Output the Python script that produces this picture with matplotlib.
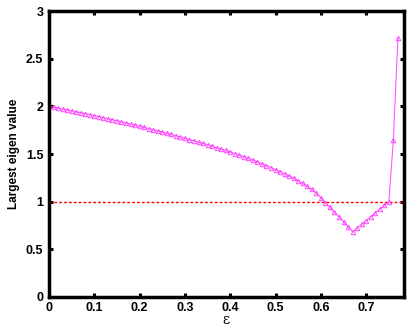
import numpy as np
import matplotlib
matplotlib.use("Agg")
import matplotlib.pyplot as plt

# coupling strength and largest eigenvalue
eps = [round(0.01 * i, 2) for i in range(78)]
lam = [2.000, 1.991, 1.982, 1.972, 1.963, 1.953, 1.943, 1.934, 1.924, 1.914,
       1.904, 1.893, 1.882, 1.871, 1.860, 1.849, 1.838, 1.826, 1.815, 1.803,
       1.791, 1.779, 1.767, 1.755, 1.743, 1.730, 1.718, 1.705, 1.692, 1.679,
       1.666, 1.652, 1.639, 1.625, 1.611, 1.597, 1.582, 1.567, 1.552, 1.537,
       1.521, 1.505, 1.488, 1.471, 1.454, 1.436, 1.417, 1.398, 1.379, 1.358,
       1.336, 1.315, 1.293, 1.270, 1.245, 1.219, 1.191, 1.161, 1.128, 1.089,
       1.042, 0.990, 0.940, 0.890, 0.840, 0.790, 0.735, 0.684, 0.723, 0.763,
       0.802, 0.842, 0.882, 0.921, 0.961, 1.000, 1.650, 2.720]
threshold = 1.0

xticks = [0, 0.1, 0.2, 0.3, 0.4, 0.5, 0.6, 0.7]
yticks = [0, 0.5, 1, 1.5, 2, 2.5, 3]

plt.rcParams['font.family'] = ['Liberation Sans', 'DejaVu Sans']

fig = plt.figure(figsize=(4.15, 3.27), dpi=100)
ax = fig.add_axes([0.118, 0.092, 0.855, 0.874])

ax.axhline(threshold, color='#ff0000', lw=1.0, ls=(0, (2, 1.5)))
ax.plot(eps, lam, color='#ff55ff', lw=0.8, marker='^', ms=3.2,
        mfc='none', mec='#ff44ff', mew=0.7)

ax.set_xlim(0, 0.783)
ax.set_ylim(0, 3)
ax.set_xticks(xticks)
ax.set_xticklabels(['0', '0.1', '0.2', '0.3', '0.4', '0.5', '0.6', '0.7'])
ax.set_yticks(yticks)
ax.set_yticklabels(['0', '0.5', '1', '1.5', '2', '2.5', '3'])

for s in ax.spines.values():
    s.set_linewidth(2.5)
ax.tick_params(direction='in', length=3, width=2.2, top=True, right=True,
               labelsize=9, pad=4)
for lab in ax.get_xticklabels() + ax.get_yticklabels():
    lab.set_fontweight('bold')

ax.set_xlabel('ε', fontsize=10, labelpad=-1, family=['DejaVu Serif'])
ax.set_ylabel('Largest eigen value', fontsize=8.5, fontweight='bold', labelpad=4)

fig.savefig('out.png', dpi=100)
